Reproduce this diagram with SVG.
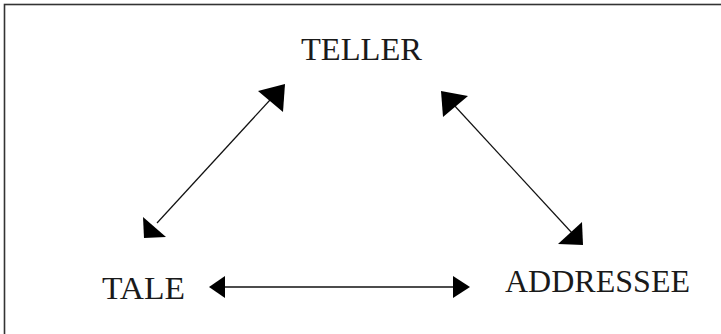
<svg xmlns="http://www.w3.org/2000/svg" width="721" height="334" viewBox="0 0 721 334">
<style>
.lbl{font-family:"Liberation Serif","Times New Roman",serif;font-size:31px;fill:#1a1a1a}
.ln{stroke:#111;fill:none}
.hd{fill:#000;stroke:none}
</style>
<rect x="0" y="0" width="721" height="334" fill="#fff"/>
<rect x="4.5" y="4.5" width="730" height="340" fill="none" stroke="#333" stroke-width="1.6"/>
<g id="connectors">
  <line class="ln" x1="157" y1="223" x2="270" y2="100" stroke-width="1.2"/>
  <polygon class="hd" points="285,84 258,91 283,112"/>
  <polygon class="hd" points="144,238 143,217 166,237"/>
  <line class="ln" x1="453" y1="104" x2="572" y2="233" stroke-width="1.2"/>
  <polygon class="hd" points="441,91 468,96 443,117"/>
  <polygon class="hd" points="583,245 582,222 558,244"/>
  <line class="ln" x1="222" y1="287" x2="456" y2="287" stroke-width="1.6"/>
  <polygon class="hd" points="209,287 225,276 225,298"/>
  <polygon class="hd" points="470,287 453,276 453,298"/>
</g>
<g id="teller"><text class="lbl" x="301" y="60" textLength="121" lengthAdjust="spacingAndGlyphs">TELLER</text></g>
<g id="tale"><text class="lbl" x="102" y="299" textLength="83" lengthAdjust="spacingAndGlyphs">TALE</text></g>
<g id="addressee"><text class="lbl" x="505" y="292" textLength="185" lengthAdjust="spacingAndGlyphs">ADDRESSEE</text></g>
</svg>
